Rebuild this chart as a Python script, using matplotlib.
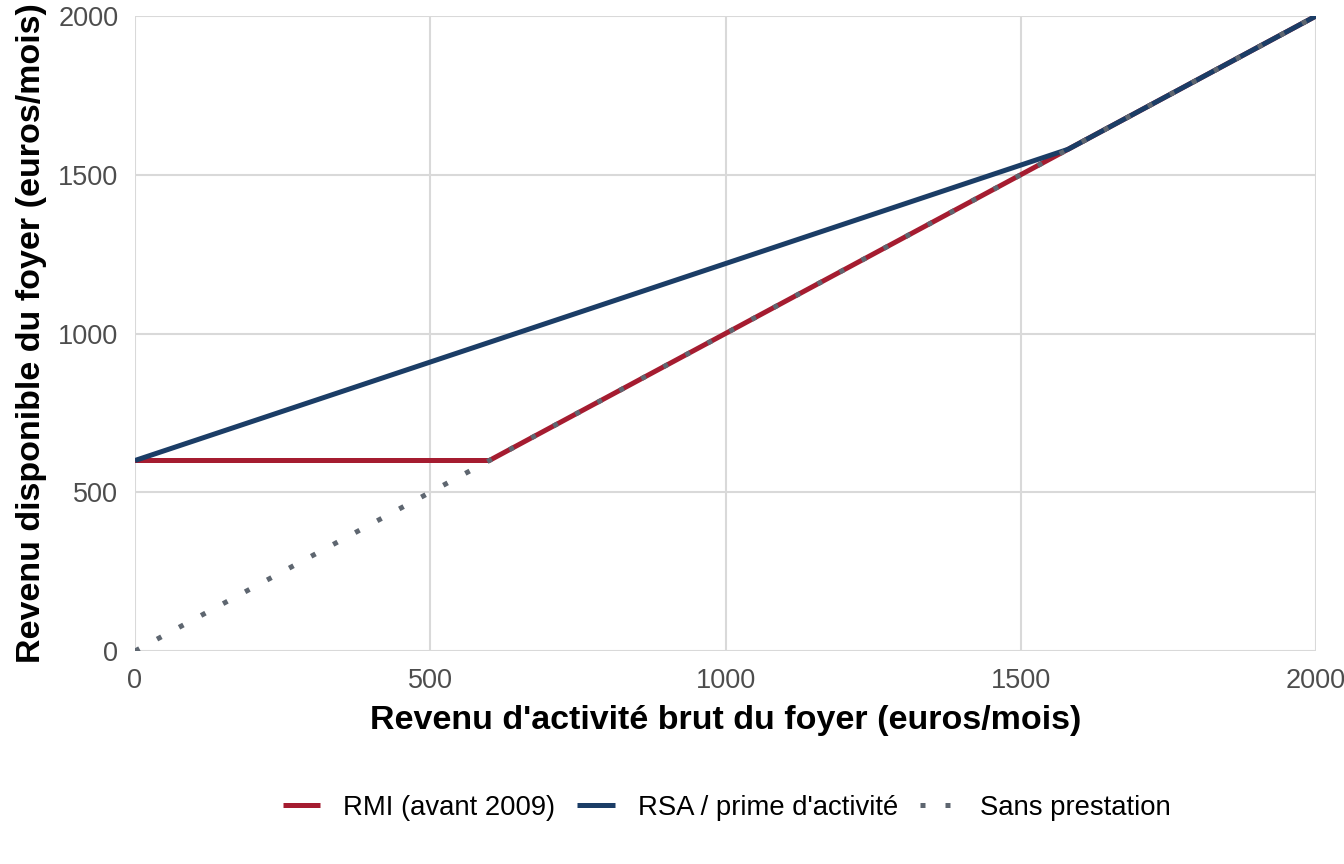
import matplotlib
matplotlib.use("Agg")
import matplotlib.pyplot as plt

plt.rcParams['font.family'] = ['Liberation Sans', 'DejaVu Sans']

# Data
rmi_x = [0, 600, 2000]
rmi_y = [600, 600, 2000]
rsa_x = [0, 1580, 2000]
rsa_y = [600, 1580, 2000]
sans_x = [0, 2000]
sans_y = [0, 2000]
ticks = [0, 500, 1000, 1500, 2000]
labels = ["RMI (avant 2009)", "RSA / prime d'activité", "Sans prestation"]
colors = ["#a51c30", "#1b3d66", "#5e6670"]

fig = plt.figure(figsize=(13.44, 8.64), dpi=100)
ax = fig.add_axes([135/1344, 1-651/864, (1316-135)/1344, (651-16)/864])

lw = 3.6
l1, = ax.plot(rmi_x, rmi_y, color=colors[0], lw=lw, solid_capstyle='butt', label=labels[0], zorder=3)
l2, = ax.plot(rsa_x, rsa_y, color=colors[1], lw=lw, solid_capstyle='butt', label=labels[1], zorder=4)
l3, = ax.plot(sans_x, sans_y, color=colors[2], lw=lw, linestyle=(0, (1, 4)),
              dash_capstyle='butt', label=labels[2], zorder=5)

ax.set_xlim(0, 2000)
ax.set_ylim(0, 2000)
ax.set_xticks(ticks)
ax.set_yticks(ticks)
ax.grid(True, color="#d9d9d9", lw=1.5, zorder=0)
ax.set_axisbelow(True)
for s in ax.spines.values():
    s.set_visible(False)
ax.tick_params(length=0, labelsize=19.5, labelcolor="#4d4d4d", pad=12)

ax.set_xlabel("Revenu d'activité brut du foyer (euros/mois)", fontsize=24.5, fontweight='bold', labelpad=8)
ax.set_ylabel("Revenu disponible du foyer (euros/mois)", fontsize=24.5, fontweight='bold', labelpad=8)

fig.legend(handles=[l1, l2, l3], labels=labels, loc='center', bbox_to_anchor=(727/1344, 1-808/864),
           ncol=3, frameon=False, fontsize=19.8, handlelength=1.35, columnspacing=0.8, handletextpad=0.84)

fig.savefig("out.png", dpi=100)
